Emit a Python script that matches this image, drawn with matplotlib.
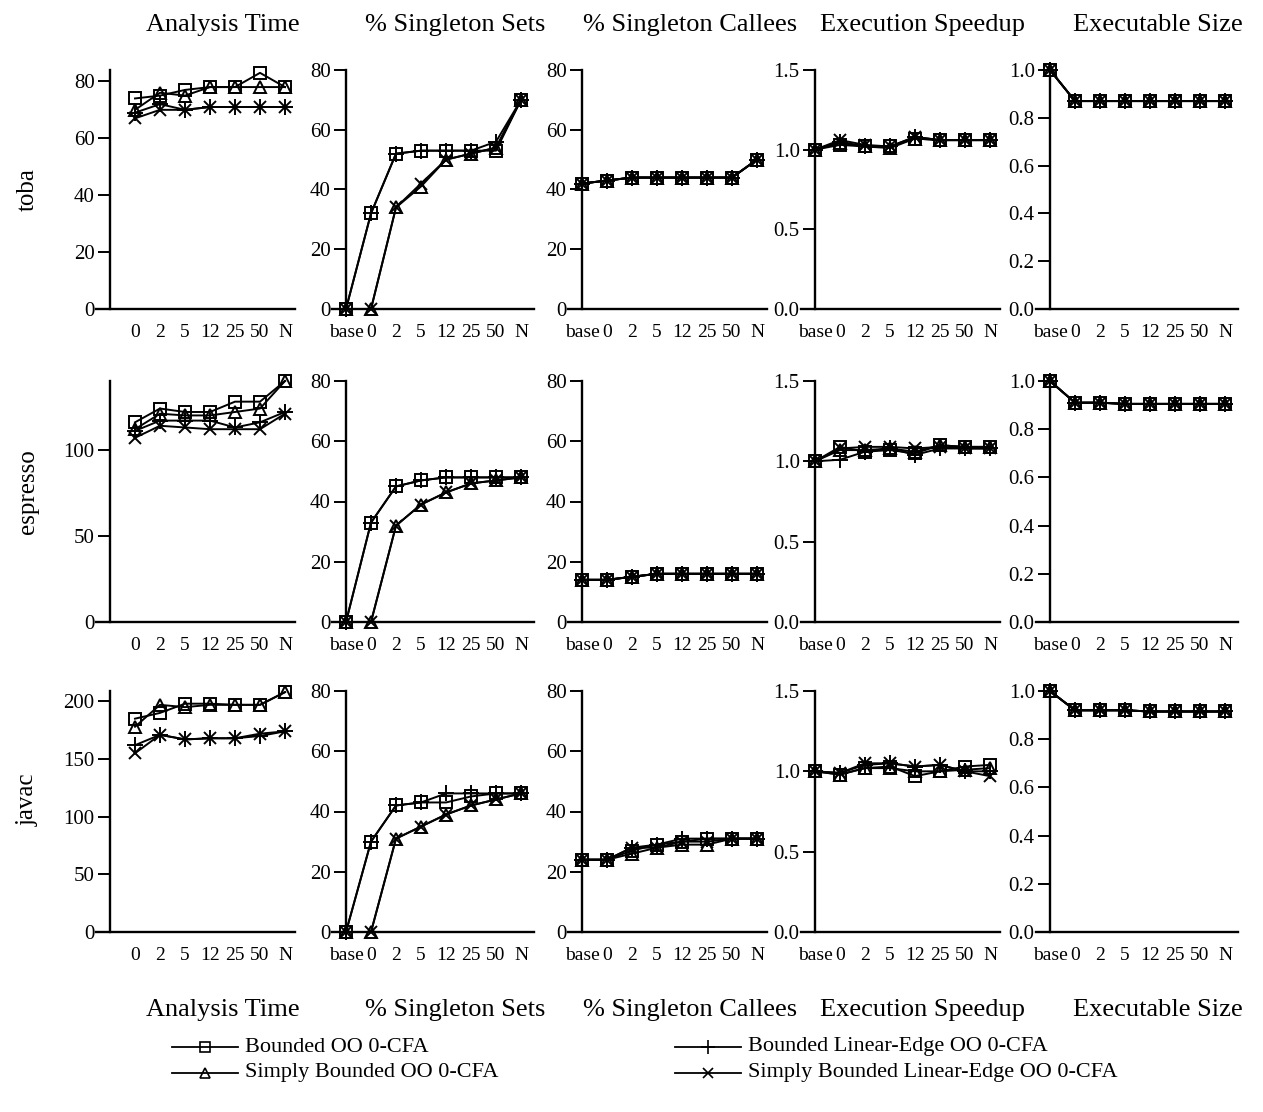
import numpy as np
import matplotlib.pyplot as plt

plt.rcParams['font.family'] = ['Liberation Serif', 'DejaVu Serif']

benchmarks = ["toba", "espresso", "javac"]
metrics = ["Analysis Time", "% Singleton Sets", "% Singleton Callees",
           "Execution Speedup", "Executable Size"]
time_labels = ["0", "2", "5", "12", "25", "50", "N"]
labels = ["base", "0", "2", "5", "12", "25", "50", "N"]
series = ["Bounded OO 0-CFA", "Simply Bounded OO 0-CFA",
          "Bounded Linear-Edge OO 0-CFA", "Simply Bounded Linear-Edge OO 0-CFA"]

# analysis time, no base column (order: square, triangle, plus, x)
time_toba = [[74, 75, 77, 78, 78, 83, 78],
             [70, 76, 75, 78, 78, 78, 78],
             [69, 72, 70, 71, 71, 71, 71],
             [67, 70, 70, 71, 71, 71, 71]]
time_espresso = [[116, 124, 122, 122, 128, 128, 140],
                 [112, 121, 120, 120, 122, 124, 140],
                 [111, 117, 117, 117, 113, 116, 122],
                 [107, 114, 113, 112, 112, 112, 121]]
time_javac = [[185, 190, 198, 198, 197, 197, 208],
              [178, 197, 195, 197, 197, 197, 208],
              [162, 171, 167, 168, 168, 170, 174],
              [155, 171, 167, 168, 168, 172, 174]]

sets_toba = [[0, 32, 52, 53, 53, 53, 53, 70],
             [0, 0, 34, 41, 50, 52, 54, 70],
             [0, 32, 52, 53, 53, 53, 56, 70],
             [0, 0, 34, 42, 50, 52, 54, 70]]
sets_espresso = [[0, 33, 45, 47, 48, 48, 48, 48],
                 [0, 0, 32, 39, 43, 46, 47, 48],
                 [0, 33, 45, 47, 48, 48, 48, 48],
                 [0, 0, 32, 39, 43, 46, 47, 48]]
sets_javac = [[0, 30, 42, 43, 43, 45, 46, 46],
              [0, 0, 31, 35, 39, 42, 44, 46],
              [0, 30, 42, 43, 46, 46, 46, 46],
              [0, 0, 31, 35, 39, 42, 44, 46]]

callees_toba = [[42, 43, 44, 44, 44, 44, 44, 50]] * 4
callees_espresso = [[14, 14, 15, 16, 16, 16, 16, 16]] * 4
callees_javac = [[24, 24, 27, 29, 30, 31, 31, 31],
                 [24, 24, 26, 28, 29, 29, 31, 31],
                 [24, 24, 28, 29, 31, 31, 31, 31],
                 [24, 24, 28, 28, 30, 30, 31, 31]]

speed_toba = [[1.0, 1.03, 1.02, 1.02, 1.07, 1.06, 1.06, 1.06],
              [1.0, 1.04, 1.02, 1.01, 1.07, 1.06, 1.06, 1.06],
              [1.0, 1.05, 1.02, 1.02, 1.08, 1.06, 1.06, 1.06],
              [1.0, 1.06, 1.03, 1.02, 1.08, 1.06, 1.06, 1.06]]
speed_espresso = [[1.0, 1.09, 1.06, 1.07, 1.05, 1.10, 1.09, 1.09],
                  [1.0, 1.07, 1.07, 1.08, 1.06, 1.10, 1.09, 1.09],
                  [1.0, 1.01, 1.06, 1.08, 1.04, 1.08, 1.08, 1.08],
                  [1.0, 1.08, 1.09, 1.09, 1.08, 1.09, 1.08, 1.08]]
speed_javac = [[1.0, 0.98, 1.02, 1.03, 0.97, 1.00, 1.03, 1.04],
               [1.0, 0.98, 1.02, 1.02, 1.00, 1.00, 1.01, 1.02],
               [1.0, 0.99, 1.04, 1.05, 1.03, 1.04, 1.00, 1.00],
               [1.0, 0.99, 1.05, 1.05, 1.03, 1.04, 1.00, 0.97]]

size_toba = [[1.0, 0.87, 0.87, 0.87, 0.87, 0.87, 0.87, 0.87]] * 4
size_espresso = [[1.0, 0.91, 0.91, 0.905, 0.905, 0.905, 0.905, 0.905]] * 4
size_javac = [[1.0, 0.92, 0.92, 0.92, 0.915, 0.915, 0.915, 0.915]] * 4

panels = [[time_toba, sets_toba, callees_toba, speed_toba, size_toba],
          [time_espresso, sets_espresso, callees_espresso, speed_espresso, size_espresso],
          [time_javac, sets_javac, callees_javac, speed_javac, size_javac]]

time_ticks = [[0, 20, 40, 60, 80], [0, 50, 100], [0, 50, 100, 150, 200]]
time_top = [84, 140, 209]

styles = [dict(marker='s', ms=8.5, mfc='none'),
          dict(marker='^', ms=9, mfc='none'),
          dict(marker='+', ms=12),
          dict(marker='x', ms=8.5)]

W, H = 1263, 1112
fig = plt.figure(figsize=(W / 100, H / 100), dpi=100)

axis_x = [110, 346, 582, 815, 1050]
x_right = [7.4, 7.5, 7.4, 7.4, 7.5]
rows = [(70, 309), (381, 622), (691, 932)]
step = 25.0
x_left = -0.55

for r in range(3):
    top, bot = rows[r]
    for c in range(5):
        left = axis_x[c] + x_left * step
        width = (x_right[c] - x_left) * step
        ax = fig.add_axes([left / W, 1 - bot / H, width / W, (bot - top) / H])
        for k in range(4):
            vals = panels[r][c][k]
            xs = np.arange(1, 8) if c == 0 else np.arange(0, 8)
            ax.plot(xs, vals, color='black', lw=1.4, mec='black', mew=1.4,
                    clip_on=False, zorder=3, **styles[k])
        ax.set_xlim(x_left, x_right[c])
        if c == 0:
            ax.set_xticks(np.arange(1, 8))
            ax.set_xticklabels(time_labels)
            ax.set_yticks(time_ticks[r])
            ax.set_ylim(0, time_top[r])
        else:
            ax.set_xticks(np.arange(0, 8))
            ax.set_xticklabels(labels)
            if c in (1, 2):
                ax.set_yticks([0, 20, 40, 60, 80])
                ax.set_ylim(0, 80)
            elif c == 3:
                ax.set_yticks([0, 0.5, 1.0, 1.5])
                ax.set_yticklabels(["0.0", "0.5", "1.0", "1.5"])
                ax.set_ylim(0, 1.5)
            else:
                ax.set_yticks([0, 0.2, 0.4, 0.6, 0.8, 1.0])
                ax.set_yticklabels(["0.0", "0.2", "0.4", "0.6", "0.8", "1.0"])
                ax.set_ylim(0, 1.0)
        ax.spines['top'].set_visible(False)
        ax.spines['right'].set_visible(False)
        ax.spines['left'].set_position(('data', 0))
        ax.spines['left'].set_linewidth(1.7)
        ax.spines['bottom'].set_linewidth(1.7)
        ax.patch.set_alpha(0)
        ax.tick_params(axis='x', length=0, pad=11, labelsize=14)
        ax.tick_params(axis='y', direction='out', length=9, width=1.4,
                       pad=2, labelsize=15)

title_x = [223, 455, 690, 923, 1158]
for c in range(5):
    fig.text(title_x[c] / W, 1 - 25 / H, metrics[c], ha='center', va='center', fontsize=19)
    fig.text(title_x[c] / W, 1 - 1010 / H, metrics[c], ha='center', va='center', fontsize=19)

row_y = [190, 492, 800]
for r in range(3):
    fig.text(28 / W, 1 - row_y[r] / H, benchmarks[r], rotation=90,
             ha='center', va='center', fontsize=18)

# legend, built by hand in two columns
leg_pos = [(172, 1047), (172, 1073), (675, 1047), (675, 1073)]
leg = fig.add_axes([0, 0, 1, 1])
leg.set_xlim(0, W)
leg.set_ylim(H, 0)
leg.axis('off')
for k in range(4):
    x0, y0 = leg_pos[k]
    leg.plot([x0, x0 + 66], [y0, y0], color='black', lw=1.3)
    leg.plot([x0 + 33], [y0], color='black', mec='black', mew=1.2,
             **{**styles[k], 'ms': styles[k]['ms'] * 0.8})
    leg.text(x0 + 73, y0, series[k], ha='left', va='center', fontsize=16)

fig.savefig("out.png", dpi=100)
